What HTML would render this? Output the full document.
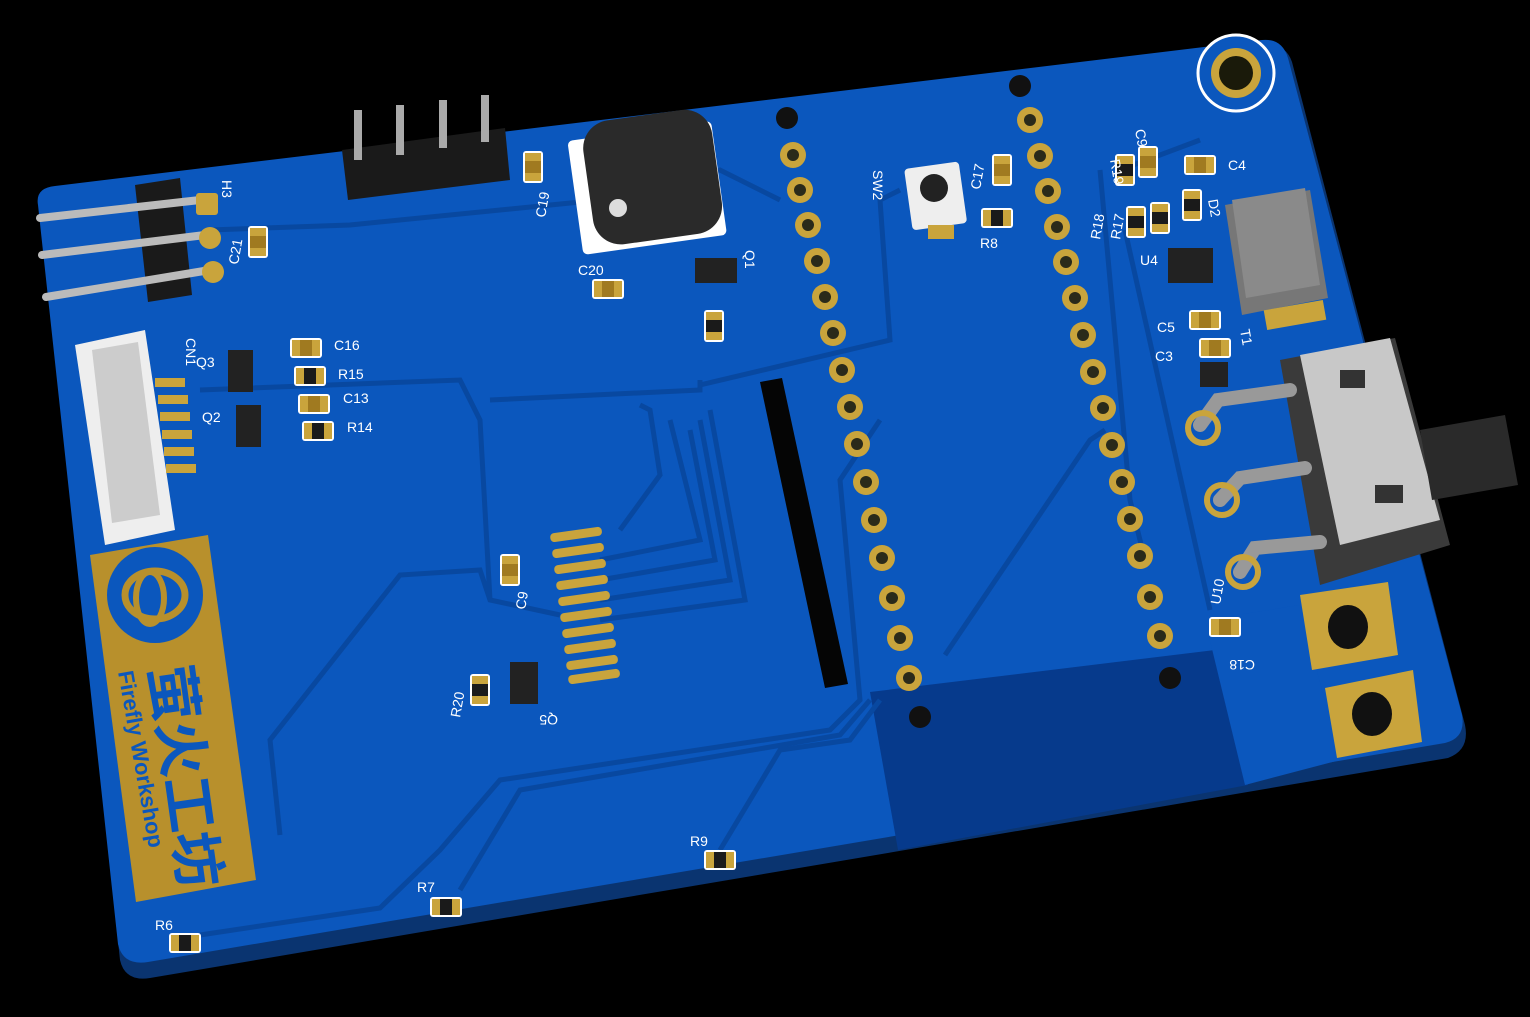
<!DOCTYPE html>
<html><head><meta charset="utf-8"><style>
html,body{margin:0;padding:0;background:#000;width:1530px;height:1017px;overflow:hidden}
svg{display:block}
text{font-family:"Liberation Sans","Noto Sans CJK SC",sans-serif;fill:#fff;font-size:14px}
</style></head><body>
<svg width="1530" height="1017" viewBox="0 0 1530 1017" xmlns="http://www.w3.org/2000/svg">
<defs>
<g id="pad"><circle r="13" fill="#c9a43c"/><circle r="6" fill="#2a2a1a"/></g>
<g id="smd"><rect x="-16" y="-10" width="32" height="20" rx="3" fill="#fff"/><rect x="-14" y="-8" width="28" height="16" fill="#1a1a1a"/><rect x="-14" y="-8" width="8" height="16" fill="#c9a43c"/><rect x="6" y="-8" width="8" height="16" fill="#c9a43c"/></g>
<g id="cap"><rect x="-16" y="-10" width="32" height="20" rx="3" fill="#fff"/><rect x="-14" y="-8" width="28" height="16" fill="#c9a43c"/><rect x="-6" y="-8" width="12" height="16" fill="#a07a20"/></g>
</defs>
<rect width="1530" height="1017" fill="#000"/>
<!-- board thickness -->
<path d="M40 215 Q35 200 55 196 L1262 45 Q1285 42 1292 62 L1465 725 Q1470 750 1448 758 L150 978 Q125 982 120 960 Z" fill="#0a3470"/>
<!-- board top -->
<path d="M38 205 Q35 188 55 186 L1262 40 Q1282 38 1288 58 L1462 715 Q1466 738 1445 743 L148 962 Q123 966 118 944 Z" fill="#0b57bd"/>
<!-- dark ground region -->
<path d="M870 692 L1215 650 L1248 785 L898 850 Z" fill="#063a8c"/>
<path d="M1205 620 L1300 605 L1340 760 L1245 785 Z" fill="#0b57bd"/>
<!-- traces -->
<g fill="none" stroke="#0848a0" stroke-width="5">
<path d="M280 835 L270 740 L400 575 L480 570 L490 600 L560 615"/>
<path d="M200 935 L380 908 L440 850 L500 780 L830 730 L860 700 L840 480 L880 420"/>
<path d="M460 890 L520 790 L840 735 L870 700"/>
<path d="M720 850 L780 750 L850 740 L880 700"/>
<path d="M620 530 L660 475 L650 410 L640 405"/>
<path d="M600 560 L700 540 L670 420 M600 580 L715 560 L690 430 M600 600 L730 580 L700 420 M600 620 L745 600 L710 410"/>
<path d="M200 390 L460 380 L480 420 L490 600"/>
<path d="M490 400 L700 390 L700 380 M700 385 L890 340 L880 200 L900 190"/>
<path d="M210 230 L350 225 L600 200 L720 170 L780 200"/>
<path d="M945 655 L1090 440 L1105 430"/>
<path d="M1100 170 L1130 500 L1145 560 M1120 170 L1200 140"/>
<path d="M1125 230 L1210 610"/>
</g>
<!-- slot -->
<path d="M760 382 L782 378 L848 684 L825 688 Z" fill="#050505"/>
<!-- logo -->
<path d="M90 555 L208 535 L256 880 L136 902 Z" fill="#b8902c"/>
<circle cx="155" cy="595" r="48" fill="#0b57bd"/>
<ellipse cx="155" cy="595" rx="30" ry="24" fill="none" stroke="#b8902c" stroke-width="7"/>
<ellipse cx="150" cy="598" rx="14" ry="26" fill="none" stroke="#b8902c" stroke-width="6"/>
<text transform="translate(150 668) rotate(82)" style="font-size:56px;fill:#0b57bd;font-weight:bold">萤火工坊</text>
<text transform="translate(118 672) rotate(80)" style="font-size:22px;fill:#0b57bd;font-weight:bold">Firefly Workshop</text>
<!-- pin columns -->
<g>
<use href="#pad" x="793" y="155"/><use href="#pad" x="800" y="190"/><use href="#pad" x="808" y="225"/><use href="#pad" x="817" y="261"/><use href="#pad" x="825" y="297"/><use href="#pad" x="833" y="333"/><use href="#pad" x="842" y="370"/><use href="#pad" x="850" y="407"/><use href="#pad" x="857" y="444"/><use href="#pad" x="866" y="482"/><use href="#pad" x="874" y="520"/><use href="#pad" x="882" y="558"/><use href="#pad" x="892" y="598"/><use href="#pad" x="900" y="638"/><use href="#pad" x="909" y="678"/>
<use href="#pad" x="1030" y="120"/><use href="#pad" x="1040" y="156"/><use href="#pad" x="1048" y="191"/><use href="#pad" x="1057" y="227"/><use href="#pad" x="1066" y="262"/><use href="#pad" x="1075" y="298"/><use href="#pad" x="1083" y="335"/><use href="#pad" x="1093" y="372"/><use href="#pad" x="1103" y="408"/><use href="#pad" x="1112" y="445"/><use href="#pad" x="1122" y="482"/><use href="#pad" x="1130" y="519"/><use href="#pad" x="1140" y="556"/><use href="#pad" x="1150" y="597"/><use href="#pad" x="1160" y="636"/>
</g>
<g fill="#111"><circle cx="787" cy="118" r="11"/><circle cx="1020" cy="86" r="11"/><circle cx="920" cy="717" r="11"/><circle cx="1170" cy="678" r="11"/></g>
<!-- mount hole -->
<circle cx="1236" cy="73" r="38" fill="#0b57bd" stroke="#fff" stroke-width="3"/>
<circle cx="1236" cy="73" r="25" fill="#c9a43c"/><circle cx="1236" cy="73" r="17" fill="#1a1a0a"/>
<!-- buzzer -->
<rect x="575" y="130" width="145" height="115" rx="5" fill="#fff" transform="rotate(-8 650 190)"/>
<rect x="588" y="115" width="130" height="125" rx="28" fill="#2a2a2a" transform="rotate(-8 650 180)"/>
<circle cx="618" cy="208" r="9" fill="#ddd"/>
<!-- top header 4 pin -->
<path d="M342 150 L505 128 L510 180 L348 200 Z" fill="#1a1a1a"/>
<g stroke="#aaa" stroke-width="8"><line x1="358" y1="160" x2="358" y2="110"/><line x1="400" y1="155" x2="400" y2="105"/><line x1="443" y1="148" x2="443" y2="100"/><line x1="485" y1="142" x2="485" y2="95"/></g>
<!-- left header H3 -->
<path d="M135 185 L180 178 L192 295 L148 302 Z" fill="#1a1a1a"/>
<g stroke="#bbb" stroke-width="8" stroke-linecap="round"><line x1="40" y1="218" x2="200" y2="200"/><line x1="42" y1="255" x2="205" y2="235"/><line x1="46" y1="297" x2="210" y2="270"/></g>
<g fill="#c9a43c"><rect x="196" y="193" width="22" height="22" rx="3"/><circle cx="210" cy="238" r="11"/><circle cx="213" cy="272" r="11"/></g>
<!-- CN1 -->
<path d="M75 345 L145 330 L175 530 L105 545 Z" fill="#eee"/>
<path d="M92 350 L138 342 L160 515 L112 523 Z" fill="#ccc"/>
<g fill="#c9a43c"><rect x="155" y="378" width="30" height="9"/><rect x="158" y="395" width="30" height="9"/><rect x="160" y="412" width="30" height="9"/><rect x="162" y="430" width="30" height="9"/><rect x="164" y="447" width="30" height="9"/><rect x="166" y="464" width="30" height="9"/></g>
<!-- switch -->
<path d="M1280 360 L1395 338 L1450 545 L1320 585 Z" fill="#3a3a3a"/>
<path d="M1300 355 L1390 338 L1440 520 L1340 545 Z" fill="#c8c8c8"/>
<path d="M1420 430 L1505 415 L1518 485 L1432 500 Z" fill="#2a2a2a"/>
<g fill="#333"><rect x="1340" y="370" width="25" height="18"/><rect x="1375" y="485" width="28" height="18"/></g>
<g stroke="#999" stroke-width="14" fill="none" stroke-linecap="round"><path d="M1200 425 L1218 400 L1290 390"/><path d="M1220 500 L1240 478 L1305 468"/><path d="M1240 572 L1255 548 L1320 542"/></g>
<g fill="none" stroke="#c9a43c" stroke-width="6"><circle cx="1203" cy="428" r="15"/><circle cx="1222" cy="500" r="15"/><circle cx="1243" cy="572" r="15"/></g>
<!-- inductor -->
<path d="M1225 205 L1310 190 L1328 298 L1242 315 Z" fill="#777"/>
<path d="M1232 200 L1305 188 L1320 285 L1246 298 Z" fill="#8a8a8a"/>
<rect x="1265" y="305" width="60" height="20" fill="#c9a43c" transform="rotate(-10 1295 315)"/>
<!-- power pads -->
<g><path d="M1300 595 L1388 582 L1398 655 L1312 670 Z" fill="#c9a43c"/><ellipse cx="1348" cy="627" rx="20" ry="22" fill="#111"/>
<path d="M1325 688 L1413 670 L1422 742 L1337 758 Z" fill="#c9a43c"/><ellipse cx="1372" cy="714" rx="20" ry="22" fill="#111"/></g>
<!-- SMD parts -->
<use href="#cap" x="533" y="167" transform="rotate(90 533 167)"/>
<use href="#cap" x="258" y="242" transform="rotate(90 258 242)"/>
<use href="#cap" x="510" y="570" transform="rotate(90 510 570)"/>
<use href="#cap" x="608" y="289"/>
<use href="#cap" x="306" y="348"/><use href="#smd" x="310" y="376"/><use href="#cap" x="314" y="404"/><use href="#smd" x="318" y="431"/>
<use href="#cap" x="1002" y="170" transform="rotate(90 1002 170)"/>
<use href="#smd" x="997" y="218"/>
<use href="#smd" x="714" y="326" transform="rotate(90 714 326)"/>
<use href="#smd" x="480" y="690" transform="rotate(90 480 690)"/>
<use href="#smd" x="185" y="943"/><use href="#smd" x="446" y="907"/><use href="#smd" x="720" y="860"/>
<use href="#cap" x="1225" y="627"/>
<use href="#cap" x="1205" y="320"/><use href="#cap" x="1215" y="348"/><use href="#cap" x="1200" y="165"/>
<use href="#smd" x="1125" y="170" transform="rotate(90 1125 170)"/><use href="#cap" x="1148" y="162" transform="rotate(90 1148 162)"/>
<use href="#smd" x="1136" y="222" transform="rotate(90 1136 222)"/><use href="#smd" x="1160" y="218" transform="rotate(90 1160 218)"/>
<use href="#smd" x="1192" y="205" transform="rotate(90 1192 205)"/>
<!-- ICs -->
<g fill="#222"><rect x="228" y="350" width="25" height="42"/><rect x="236" y="405" width="25" height="42"/><rect x="695" y="258" width="42" height="25"/><rect x="510" y="662" width="28" height="42"/><rect x="1168" y="248" width="45" height="35"/><rect x="1200" y="362" width="28" height="25"/></g>
<!-- button -->
<rect x="908" y="165" width="55" height="62" rx="4" fill="#eee" transform="rotate(-8 935 195)"/>
<circle cx="934" cy="188" r="14" fill="#222"/>
<rect x="928" y="225" width="26" height="14" fill="#c9a43c"/>
<!-- ribbon pads -->
<g fill="#c9a43c">
<rect x="550" y="530" width="52" height="9" rx="4" transform="rotate(-8 576 534)"/><rect x="552" y="546" width="52" height="9" rx="4" transform="rotate(-8 578 550)"/><rect x="554" y="562" width="52" height="9" rx="4" transform="rotate(-8 580 566)"/><rect x="556" y="578" width="52" height="9" rx="4" transform="rotate(-8 582 582)"/><rect x="558" y="594" width="52" height="9" rx="4" transform="rotate(-8 584 598)"/><rect x="560" y="610" width="52" height="9" rx="4" transform="rotate(-8 586 614)"/><rect x="562" y="626" width="52" height="9" rx="4" transform="rotate(-8 588 630)"/><rect x="564" y="642" width="52" height="9" rx="4" transform="rotate(-8 590 646)"/><rect x="566" y="658" width="52" height="9" rx="4" transform="rotate(-8 592 662)"/><rect x="568" y="672" width="52" height="9" rx="4" transform="rotate(-8 594 676)"/>
</g>
<!-- labels -->
<text x="334" y="350">C16</text><text x="338" y="379">R15</text><text x="343" y="403">C13</text><text x="347" y="432">R14</text>
<text x="196" y="367">Q3</text><text x="202" y="422">Q2</text>
<text x="578" y="275">C20</text><text x="980" y="248">R8</text><text x="1140" y="265">U4</text>
<text x="1157" y="332">C5</text><text x="1155" y="361">C3</text><text x="1228" y="170">C4</text>
<text x="155" y="930">R6</text><text x="417" y="892">R7</text><text x="690" y="846">R9</text>
<text transform="translate(186 338) rotate(90)">CN1</text>
<text transform="translate(222 180) rotate(90)">H3</text>
<text transform="translate(238 265) rotate(-80)">C21</text>
<text transform="translate(545 218) rotate(-80)">C19</text>
<text transform="translate(745 250) rotate(90)">Q1</text>
<text transform="translate(873 170) rotate(90)">SW2</text>
<text transform="translate(980 190) rotate(-80)">C17</text>
<text transform="translate(1100 240) rotate(-80)">R18</text>
<text transform="translate(1120 240) rotate(-80)">R17</text>
<text transform="translate(1110 160) rotate(80)">R19</text>
<text transform="translate(1135 130) rotate(80)">C9</text>
<text transform="translate(1208 200) rotate(80)">D2</text>
<text transform="translate(1240 330) rotate(80)">T1</text>
<text transform="translate(1220 605) rotate(-80)">U10</text>
<text transform="translate(1255 660) rotate(180)">C18</text>
<text transform="translate(525 610) rotate(-80)">C9</text>
<text transform="translate(460 718) rotate(-80)">R20</text>
<text transform="translate(558 715) rotate(180)">Q5</text>
</svg>
</body></html>
